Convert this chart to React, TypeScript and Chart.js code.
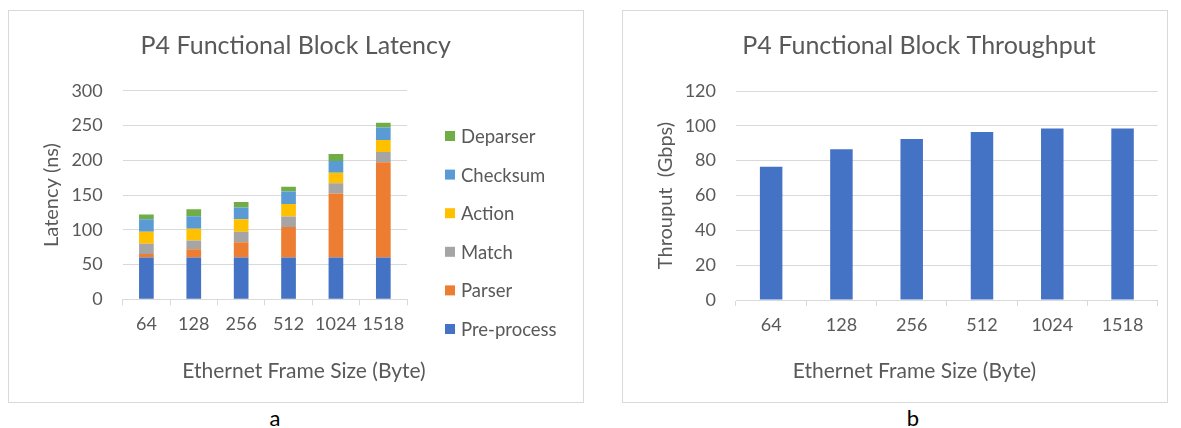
import React, { useEffect, useRef } from 'react';
import { Chart, registerables } from 'chart.js';

Chart.register(...registerables);

// Ethernet frame sizes (bytes) on the category axis
const frameSizes = ['64', '128', '256', '512', '1024', '1518'];

// Latency contribution of each P4 functional block (ns)
const preProcess = [60, 60, 60, 60, 60, 60];
const parser = [5, 12, 22, 44, 92, 137];
const match = [15, 12.5, 15, 15, 15, 15];
const action = [17, 17, 18, 18, 15, 17];
const checksum = [18, 18, 17, 18, 17, 18];
const deparser = [7, 10, 8, 7, 10, 7];

// Throughput per frame size (Gbps)
const throughput = [76.5, 86.5, 92.5, 96.5, 98.5, 98.5];

const latencyMax = 300;
const latencyStep = 50;
const throughputMax = 120;
const throughputStep = 20;

const FONT = 'Lato, "Open Sans", sans-serif';
const TEXT = '#595959';
const GRID = '#d9d9d9';
const X_TITLE = 'Ethernet Frame Size (Byte)';

type TextOpts = {
  title: string;
  titleX: number;
  titleY: number;
  xTitleX: number;
  xTitleY: number;
  legend?: { x: number; y: number; gap: number };
};

// Draws the chart heading, the shared x-axis caption and (optionally) a
// vertical legend listing the stacked series from top to bottom.
function panelText(opts: TextOpts) {
  return {
    id: 'panelText',
    afterDraw(chart: any) {
      const ctx = chart.ctx as CanvasRenderingContext2D;
      ctx.save();
      ctx.fillStyle = TEXT;
      ctx.textAlign = 'center';
      ctx.textBaseline = 'alphabetic';
      ctx.font = `25px ${FONT}`;
      ctx.fillText(opts.title, opts.titleX, opts.titleY);
      ctx.font = `21px ${FONT}`;
      ctx.fillText(X_TITLE, opts.xTitleX, opts.xTitleY);
      if (opts.legend) {
        const { x, y, gap } = opts.legend;
        const sets = [...chart.data.datasets].reverse();
        ctx.font = `18.5px ${FONT}`;
        ctx.textAlign = 'left';
        ctx.textBaseline = 'middle';
        sets.forEach((ds: any, i: number) => {
          const cy = y + i * gap;
          ctx.fillStyle = ds.backgroundColor;
          ctx.fillRect(x, cy - 5, 10, 10);
          ctx.fillStyle = TEXT;
          ctx.fillText(ds.label, x + 16, cy + 1);
        });
      }
      ctx.restore();
    },
  };
}

function baseScales(opts: {
  yMax: number;
  yStep: number;
  yTitle: string;
  yWidth: number;
  xHeight: number;
  stacked: boolean;
}) {
  return {
    x: {
      stacked: opts.stacked,
      grid: {
        display: true,
        drawOnChartArea: false,
        drawTicks: true,
        tickLength: 6,
        color: GRID,
        offset: true,
      },
      border: { display: true, color: GRID },
      ticks: {
        color: TEXT,
        font: { size: 18, family: FONT },
        padding: 8,
        maxRotation: 0,
        minRotation: 0,
        autoSkip: false,
      },
      title: { display: false },
      afterFit: (s: any) => {
        s.height = opts.xHeight;
      },
    },
    y: {
      stacked: opts.stacked,
      min: 0,
      max: opts.yMax,
      ticks: {
        stepSize: opts.yStep,
        color: TEXT,
        font: { size: 18, family: FONT },
        padding: 20,
      },
      grid: { color: GRID, drawTicks: false },
      border: { display: false },
      title: {
        display: true,
        text: opts.yTitle,
        color: TEXT,
        font: { size: 20, family: FONT },
        padding: { top: 21, bottom: 0 },
      },
      afterFit: (s: any) => {
        s.width = opts.yWidth;
      },
    },
  };
}

function LatencyChart() {
  const ref = useRef<HTMLCanvasElement>(null);
  useEffect(() => {
    if (!ref.current) return;
    const chart = new Chart(ref.current, {
      type: 'bar',
      data: {
        labels: frameSizes,
        datasets: [
          { label: 'Pre-process', data: preProcess, backgroundColor: '#4472C4' },
          { label: 'Parser', data: parser, backgroundColor: '#ED7D31' },
          { label: 'Match', data: match, backgroundColor: '#A5A5A5' },
          { label: 'Action', data: action, backgroundColor: '#FFC000' },
          { label: 'Checksum', data: checksum, backgroundColor: '#5B9BD5' },
          { label: 'Deparser', data: deparser, backgroundColor: '#70AD47' },
        ],
      },
      options: {
        animation: false,
        responsive: false,
        devicePixelRatio: 1,
        layout: { padding: { left: 10, top: 79.7, right: 176, bottom: 0 } },
        datasets: { bar: { categoryPercentage: 1, barPercentage: 0.31 } },
        plugins: {
          legend: { display: false },
          title: { display: false },
          tooltip: { enabled: false },
        },
        scales: baseScales({
          yMax: latencyMax,
          yStep: latencyStep,
          yTitle: 'Latency (ns)',
          yWidth: 103.7,
          xHeight: 102.7,
          stacked: true,
        }) as any,
      },
      plugins: [
        panelText({
          title: 'P4 Functional Block Latency',
          titleX: 286.7,
          titleY: 43,
          xTitleX: 295,
          xTitleY: 366.5,
          legend: { x: 436, y: 125, gap: 38.6 },
        }),
      ],
    });
    return () => chart.destroy();
  }, []);
  return <canvas ref={ref} width={574} height={391} style={{ display: 'block', width: 574, height: 391 }} />;
}

function ThroughputChart() {
  const ref = useRef<HTMLCanvasElement>(null);
  useEffect(() => {
    if (!ref.current) return;
    const chart = new Chart(ref.current, {
      type: 'bar',
      data: {
        labels: frameSizes,
        datasets: [{ label: 'Throughput', data: throughput, backgroundColor: '#4472C4' }],
      },
      options: {
        animation: false,
        responsive: false,
        devicePixelRatio: 1,
        layout: { padding: { left: 10, top: 80, right: 9.3, bottom: 0 } },
        datasets: { bar: { categoryPercentage: 1, barPercentage: 0.32 } },
        plugins: {
          legend: { display: false },
          title: { display: false },
          tooltip: { enabled: false },
        },
        scales: baseScales({
          yMax: throughputMax,
          yStep: throughputStep,
          yTitle: 'Throuput  (Gbps)',
          yWidth: 103,
          xHeight: 102,
          stacked: false,
        }) as any,
      },
      plugins: [
        panelText({
          title: 'P4 Functional Block Throughput',
          titleX: 296,
          titleY: 43,
          xTitleX: 291.5,
          xTitleY: 366.5,
        }),
      ],
    });
    return () => chart.destroy();
  }, []);
  return <canvas ref={ref} width={544} height={391} style={{ display: 'block', width: 544, height: 391 }} />;
}

const panelStyle: React.CSSProperties = {
  position: 'absolute',
  top: 10,
  height: 391,
  border: `1px solid ${GRID}`,
  background: '#fff',
};

const captionStyle: React.CSSProperties = {
  position: 'absolute',
  top: 406,
  width: 40,
  textAlign: 'center',
  fontFamily: FONT,
  fontSize: 22,
  lineHeight: '24px',
  color: '#000',
};

export default function App() {
  return (
    <div style={{ position: 'absolute', left: 0, top: 0, width: 1181, height: 428, background: '#fff' }}>
      <div style={{ ...panelStyle, left: 8, width: 574 }}>
        <LatencyChart />
      </div>
      <div style={{ ...panelStyle, left: 622, width: 544 }}>
        <ThroughputChart />
      </div>
      <div style={{ ...captionStyle, left: 255 }}>a</div>
      <div style={{ ...captionStyle, left: 893 }}>b</div>
    </div>
  );
}
